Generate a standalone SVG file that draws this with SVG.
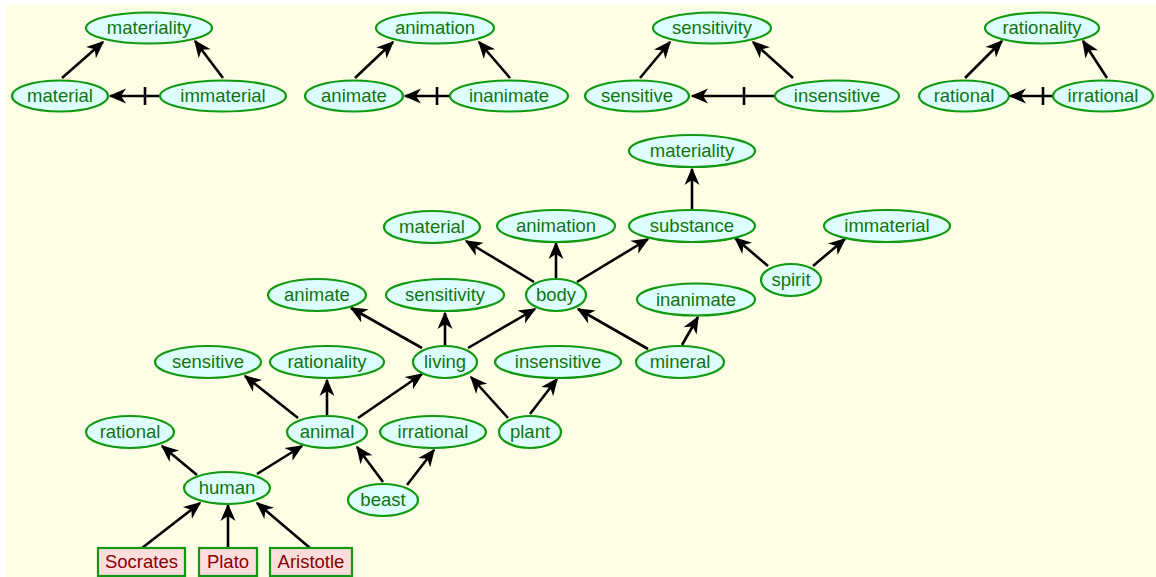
<svg xmlns="http://www.w3.org/2000/svg" width="1156" height="577" viewBox="0 0 1156 577">
<defs>
<marker id="ah" markerUnits="userSpaceOnUse" orient="auto" refX="0" refY="0" markerWidth="22" markerHeight="20" viewBox="-19 -10 22 20" overflow="visible">
<path d="M1.5,0 L-16,-7.5 L-11,0 L-16,7.5 Z" fill="#000"/>
</marker>
<style>
.n ellipse{fill:#ddffff;stroke:#119911;stroke-width:2.2}
.n rect{fill:#ffdddd;stroke:#119911;stroke-width:2.2}
.n text{font-family:"Liberation Sans",Arial,sans-serif;font-size:18.5px;fill:#117411;text-anchor:middle}
.n.p text{fill:#880000}
#edges line{stroke:#000;stroke-width:2.6;marker-end:url(#ah)}
#edges line.t{marker-end:none}
</style>
</defs>
<rect x="0" y="0" width="1156" height="577" fill="#ffffff"/>
<rect x="6" y="4" width="1150" height="573" fill="#ffffe6"/>
<g id="edges">
<line x1="62" y1="78" x2="103" y2="42"/>
<line x1="223" y1="78" x2="195" y2="41"/>
<line x1="160" y1="96" x2="110" y2="96"/>
<line class="t" x1="145" y1="87" x2="145" y2="105"/>
<line x1="355" y1="78" x2="393" y2="42"/>
<line x1="510" y1="78" x2="479" y2="42"/>
<line x1="450" y1="96" x2="405" y2="96"/>
<line class="t" x1="437" y1="87" x2="437" y2="105"/>
<line x1="640" y1="78" x2="670" y2="42"/>
<line x1="793" y1="78" x2="753" y2="42"/>
<line x1="775" y1="96" x2="692" y2="96"/>
<line class="t" x1="744" y1="87" x2="744" y2="105"/>
<line x1="965" y1="78" x2="1002" y2="41"/>
<line x1="1107" y1="78" x2="1083" y2="41"/>
<line x1="1053" y1="96" x2="1010" y2="96"/>
<line class="t" x1="1043" y1="87" x2="1043" y2="105"/>
<line x1="692" y1="209" x2="692" y2="169"/>
<line x1="768" y1="266" x2="735" y2="238"/>
<line x1="813" y1="266" x2="845" y2="239"/>
<line x1="577" y1="282" x2="648" y2="239"/>
<line x1="534" y1="282" x2="466" y2="241"/>
<line x1="556" y1="278" x2="556" y2="243"/>
<line x1="422" y1="348" x2="351" y2="308"/>
<line x1="445" y1="345" x2="445" y2="313"/>
<line x1="468" y1="348" x2="535" y2="309"/>
<line x1="648" y1="349" x2="578" y2="309"/>
<line x1="682" y1="345" x2="698" y2="317"/>
<line x1="298" y1="418" x2="245" y2="376"/>
<line x1="327" y1="415" x2="327" y2="380"/>
<line x1="358" y1="418" x2="422" y2="374"/>
<line x1="508" y1="418" x2="471" y2="377"/>
<line x1="530" y1="414" x2="557" y2="379"/>
<line x1="383" y1="482" x2="357" y2="447"/>
<line x1="407" y1="485" x2="434" y2="450"/>
<line x1="197" y1="475" x2="162" y2="446"/>
<line x1="257" y1="474" x2="302" y2="446"/>
<line x1="142" y1="548" x2="200" y2="503"/>
<line x1="228" y1="548" x2="228" y2="505"/>
<line x1="310" y1="548" x2="257" y2="503"/>
</g>
<g id="t-materiality" class="n"><ellipse cx="149" cy="28" rx="63" ry="15.5"/><text x="149" y="34">materiality</text></g>
<g id="t-material" class="n"><ellipse cx="60" cy="96" rx="48" ry="15.5"/><text x="60" y="102">material</text></g>
<g id="t-immaterial" class="n"><ellipse cx="223" cy="96" rx="63" ry="15.5"/><text x="223" y="102">immaterial</text></g>
<g id="t-animation" class="n"><ellipse cx="435" cy="28" rx="59" ry="15.5"/><text x="435" y="34">animation</text></g>
<g id="t-animate" class="n"><ellipse cx="354" cy="96" rx="49" ry="15.5"/><text x="354" y="102">animate</text></g>
<g id="t-inanimate" class="n"><ellipse cx="509" cy="96" rx="59" ry="15.5"/><text x="509" y="102">inanimate</text></g>
<g id="t-sensitivity" class="n"><ellipse cx="712" cy="28" rx="59" ry="15.5"/><text x="712" y="34">sensitivity</text></g>
<g id="t-sensitive" class="n"><ellipse cx="637" cy="96" rx="52" ry="15.5"/><text x="637" y="102">sensitive</text></g>
<g id="t-insensitive" class="n"><ellipse cx="837" cy="96" rx="62" ry="15.5"/><text x="837" y="102">insensitive</text></g>
<g id="t-rationality" class="n"><ellipse cx="1042" cy="28" rx="57" ry="15.5"/><text x="1042" y="34">rationality</text></g>
<g id="t-rational" class="n"><ellipse cx="964" cy="96" rx="45" ry="15.5"/><text x="964" y="102">rational</text></g>
<g id="t-irrational" class="n"><ellipse cx="1103" cy="96" rx="50" ry="15.5"/><text x="1103" y="102">irrational</text></g>
<g id="materiality" class="n"><ellipse cx="692" cy="151" rx="63" ry="16"/><text x="692" y="157">materiality</text></g>
<g id="material" class="n"><ellipse cx="432" cy="227" rx="48" ry="16"/><text x="432" y="233">material</text></g>
<g id="animation" class="n"><ellipse cx="556" cy="226" rx="59" ry="16"/><text x="556" y="232">animation</text></g>
<g id="substance" class="n"><ellipse cx="692" cy="226" rx="63" ry="16"/><text x="692" y="232">substance</text></g>
<g id="immaterial" class="n"><ellipse cx="887" cy="226" rx="63" ry="16"/><text x="887" y="232">immaterial</text></g>
<g id="spirit" class="n"><ellipse cx="791" cy="280" rx="30" ry="16"/><text x="791" y="286">spirit</text></g>
<g id="animate" class="n"><ellipse cx="317" cy="295" rx="49" ry="16"/><text x="317" y="301">animate</text></g>
<g id="sensitivity" class="n"><ellipse cx="445" cy="295" rx="59" ry="16"/><text x="445" y="301">sensitivity</text></g>
<g id="body" class="n"><ellipse cx="556" cy="295" rx="30" ry="16"/><text x="556" y="301">body</text></g>
<g id="inanimate" class="n"><ellipse cx="696" cy="299.5" rx="59" ry="16"/><text x="696" y="305.5">inanimate</text></g>
<g id="sensitive" class="n"><ellipse cx="208" cy="362" rx="53" ry="16"/><text x="208" y="368">sensitive</text></g>
<g id="rationality" class="n"><ellipse cx="327" cy="362" rx="57" ry="16"/><text x="327" y="368">rationality</text></g>
<g id="living" class="n"><ellipse cx="445" cy="362" rx="32" ry="16"/><text x="445" y="368">living</text></g>
<g id="insensitive" class="n"><ellipse cx="558" cy="362" rx="63" ry="16"/><text x="558" y="368">insensitive</text></g>
<g id="mineral" class="n"><ellipse cx="680" cy="362" rx="44" ry="16"/><text x="680" y="368">mineral</text></g>
<g id="rational" class="n"><ellipse cx="130" cy="432" rx="44" ry="16"/><text x="130" y="438">rational</text></g>
<g id="animal" class="n"><ellipse cx="327" cy="432" rx="40" ry="16"/><text x="327" y="438">animal</text></g>
<g id="irrational" class="n"><ellipse cx="433" cy="432" rx="53" ry="16"/><text x="433" y="438">irrational</text></g>
<g id="plant" class="n"><ellipse cx="530" cy="432" rx="31" ry="16"/><text x="530" y="438">plant</text></g>
<g id="human" class="n"><ellipse cx="227" cy="488" rx="43" ry="16"/><text x="227" y="494">human</text></g>
<g id="beast" class="n"><ellipse cx="383" cy="500" rx="35" ry="16"/><text x="383" y="506">beast</text></g>
<g id="Socrates" class="n p"><rect x="98" y="548" width="87" height="28"/><text x="141.5" y="568">Socrates</text></g>
<g id="Plato" class="n p"><rect x="199" y="548" width="58" height="28"/><text x="228" y="568">Plato</text></g>
<g id="Aristotle" class="n p"><rect x="270" y="548" width="82" height="28"/><text x="311" y="568">Aristotle</text></g>
</svg>
